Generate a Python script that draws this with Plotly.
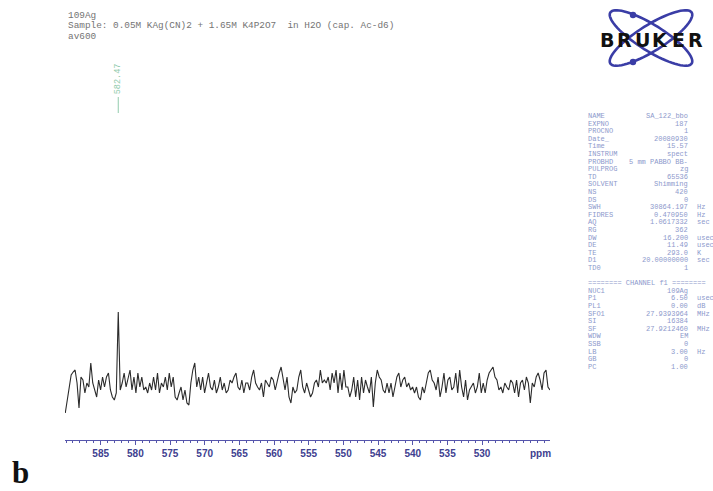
import numpy as np
import plotly.graph_objects as go

# ---------------------------------------------------------------------------
# Spectrum data: 109Ag NMR, intensity (arbitrary units) on a uniform ppm grid
# ---------------------------------------------------------------------------
PPM_LEFT = 590.11
PPM_RIGHT = 520.21
INTENSITY = [
    -23, -10, 7, 15, 18, 20, 7, -18, 13, 10, -3, 7, 3, 27, 7, 0, -7, 10, 0, 13,
    3, 13, 17, 0, -7, -10, -3,
    78,
    0, 7, 17, 3, 13, 20, 0, 13, -3, 17,
    3, 13, 0, 3, -3, 7, 0, 13, 0, 17,
    -3, 7, 3, 13, 0, 17, 3, 13, -7, -10,
    -3, 3, -10, 0, -13, -15, 7, 20, 27, 3,
    13, 0, 13, -3, 7, 17, 3, 0, 10, -3,
    3, 13, 0, 7, -3, 0, 10, 7, 13, 17,
    3, 0, 10, -3, 7, 7, 0, 13, 20, 7,
    3, 0, 7, -7, 10, 7, 3, 13, 10, 0,
    10, 17, 23, 10, 0, 13, -7, -13, 3, -3,
    0, 13, 20, 3, -3, 7, 0, -7, -3,
    7, 10, 3, 20, 7, 10, 7, 13, 0, 17,
    7, 20, -3, 17, 0, 20, 3, 3, -7, 0,
    13, -7, 10, -10, 13, -3, 10, 3, -3, 13,
    -17, 7, 20, 13, 10, 0, -3, 7, -3, 7,
    -7, 3, 13, 17, 3, 10, 13, 3, 7, 0,
    3, -3, 3, -7, -10, 3, -3, 7, 17, 20,
    10, 7, 0, 13, -7, 3, 17, -3, 10, 13,
    0, 3, 17, -3, 20, 3, -7, 10, -10, 0,
    3, 7, -3, 3, 17, -3, 7, -3, 10, 17,
    20, 23, 13, 10, 0, 3, -3, 7, 3, 0,
    10, 7, -3, 10, -7, 7, 10, 0, 13, 7,
    -13, 7, 3, 13, 17, 10, 0, 17, 20, 3,
    0,
]
PEAK_PPM = 582.47
PEAK_LABEL = "582.47"

AXIS_RANGE = [590.15, 520.2]
TICK_PPM = [585, 580, 575, 570, 565, 560, 555, 550, 545, 540, 535, 530]

HEADER_LINES = [
    "109Ag",
    "Sample: 0.05M KAg(CN)2 + 1.65M K4P2O7  in H2O (cap. Ac-d6)",
    "av600",
]

ACQ_NAMES = ["NAME", "EXPNO", "PROCNO", "Date_", "Time", "INSTRUM", "PROBHD",
             "PULPROG", "TD", "SOLVENT", "NS", "DS", "SWH", "FIDRES", "AQ",
             "RG", "DW", "DE", "TE", "D1", "TD0"]
ACQ_VALUES = ["SA_122_bbo", "187", "1", "20080930", "15.57", "spect",
              "5 mm PABBO BB-", "zg", "65536", "Shimming", "420", "0",
              "30864.197", "0.470950", "1.0617332", "362", "16.200", "11.49",
              "293.0", "20.00000000", "1"]
ACQ_UNITS = ["", "", "", "", "", "", "", "", "", "", "", "", "Hz", "Hz", "sec",
             "", "usec", "usec", "K", "sec", ""]

CHANNEL_TITLE = "======== CHANNEL f1 ========"
CH_NAMES = ["NUC1", "P1", "PL1", "SFO1", "SI", "SF", "WDW", "SSB", "LB", "GB", "PC"]
CH_VALUES = ["109Ag", "6.50", "0.00", "27.9393964", "16384", "27.9212460",
             "EM", "0", "3.00", "0", "1.00"]
CH_UNITS = ["", "usec", "dB", "MHz", "", "MHz", "", "", "Hz", "", ""]

# ---------------------------------------------------------------------------
# Page geometry (pixels) and helpers to place decorations in paper units
# ---------------------------------------------------------------------------
W, H = 713, 491
ML, MR, MT, MB = 65, 163, 50, 51
PW = W - ML - MR
PH = H - MT - MB


def px(x):
    return (x - ML) / PW


def py(y):
    return (H - MB - y) / PH


AXIS_BLUE = "#5656ac"
LABEL_BLUE = "#40408f"
TABLE_BLUE = "#8d99cc"
PEAK_GREEN = "#93cbad"
HEADER_GRAY = "#747474"
MONO = "Liberation Mono, DejaVu Sans Mono, monospace"

ppm = np.linspace(PPM_LEFT, PPM_RIGHT, len(INTENSITY))

fig = go.Figure()
fig.add_trace(go.Scatter(
    x=ppm, y=INTENSITY, mode="lines",
    line=dict(color="#2b2b2b", width=1.1),
    hoverinfo="skip", showlegend=False,
))

annotations = []
shapes = []

# header lines
for i, line in enumerate(HEADER_LINES):
    annotations.append(dict(
        text=line, xref="paper", yref="paper", x=px(66), y=py(15 + i * 10.8),
        xanchor="left", yanchor="middle", showarrow=False,
        font=dict(family=MONO, size=9.4, color=HEADER_GRAY),
    ))

# peak label and its marker line
annotations.append(dict(
    text=PEAK_LABEL, xref="x", yref="paper", x=PEAK_PPM, y=py(79),
    xanchor="center", yanchor="middle", textangle=-90, showarrow=False,
    font=dict(family=MONO, size=8.5, color=PEAK_GREEN),
))
shapes.append(dict(
    type="line", xref="x", yref="paper", x0=PEAK_PPM, x1=PEAK_PPM,
    y0=py(113), y1=py(97), line=dict(color=PEAK_GREEN, width=1),
))

# parameter table
ROW0, ROW_STEP = 116, 7.6
NAME_X, VALUE_X, UNIT_X = 586, 690, 695


def table_row(row, name, value, unit):
    y = py(ROW0 + row * ROW_STEP)
    font = dict(family=MONO, size=7, color=TABLE_BLUE)
    annotations.append(dict(text=name, xref="paper", yref="paper", x=px(NAME_X),
                            y=y, xanchor="left", yanchor="middle",
                            showarrow=False, font=font))
    if value:
        annotations.append(dict(text=value, xref="paper", yref="paper",
                                x=px(VALUE_X), y=y, xanchor="right",
                                yanchor="middle", showarrow=False, font=font))
    if unit:
        annotations.append(dict(text=unit, xref="paper", yref="paper",
                                x=px(UNIT_X), y=y, xanchor="left",
                                yanchor="middle", showarrow=False, font=font))


for i, (n, v, u) in enumerate(zip(ACQ_NAMES, ACQ_VALUES, ACQ_UNITS)):
    table_row(i, n, v, u)
table_row(len(ACQ_NAMES) + 1, CHANNEL_TITLE, "", "")
for i, (n, v, u) in enumerate(zip(CH_NAMES, CH_VALUES, CH_UNITS)):
    table_row(len(ACQ_NAMES) + 2 + i, n, v, u)

# Bruker logo: two crossing orbits, two electrons and the word mark
LOGO_CX, LOGO_CY = 651, 38
ORBIT_A, ORBIT_B = 48, 13
LOGO_BLUE = "#3a3da6"
t = np.linspace(0, 2 * np.pi, 73)
for ang in (np.radians(32), np.radians(-32)):
    ex = LOGO_CX + ORBIT_A * np.cos(t) * np.cos(ang) - ORBIT_B * np.sin(t) * np.sin(ang)
    ey = LOGO_CY + ORBIT_A * np.cos(t) * np.sin(ang) + ORBIT_B * np.sin(t) * np.cos(ang)
    path = "M " + " L ".join(f"{px(a):.5f},{py(b):.5f}" for a, b in zip(ex, ey)) + " Z"
    shapes.append(dict(type="path", xref="paper", yref="paper", path=path,
                       line=dict(color=LOGO_BLUE, width=2.6)))
for cx, cy in ((633, 15), (633, 62)):
    r = 3.2
    shapes.append(dict(type="circle", xref="paper", yref="paper",
                       x0=px(cx - r), x1=px(cx + r), y0=py(cy + r), y1=py(cy - r),
                       fillcolor=LOGO_BLUE, line=dict(color=LOGO_BLUE, width=0)))
for i, ch in enumerate("BRUKER"):
    annotations.append(dict(
        text=f"<b>{ch}</b>", xref="paper", yref="paper",
        x=px(606.9 + i * 17.8), y=py(40), xanchor="center", yanchor="middle",
        showarrow=False,
        font=dict(family="DejaVu Sans, Liberation Sans", size=19, color="#111111"),
    ))

# axis unit and panel letter
annotations.append(dict(
    text="ppm", xref="paper", yref="paper", x=px(540), y=py(453),
    xanchor="center", yanchor="middle", showarrow=False,
    font=dict(family="Liberation Sans, Arial", size=10, color=LABEL_BLUE, weight="bold"),
))
annotations.append(dict(
    text="<b>b</b>", xref="paper", yref="paper", x=px(20), y=py(472),
    xanchor="center", yanchor="middle", showarrow=False,
    font=dict(family="Liberation Serif, Times New Roman, serif", size=31, color="#111111"),
))

fig.update_layout(
    width=W, height=H,
    margin=dict(l=ML, r=MR, t=MT, b=MB, pad=0),
    paper_bgcolor="white", plot_bgcolor="white",
    showlegend=False, hovermode=False,
    annotations=annotations, shapes=shapes,
    xaxis=dict(
        range=AXIS_RANGE, autorange=False,
        showgrid=False, zeroline=False,
        showline=True, linecolor=AXIS_BLUE, linewidth=1,
        tickmode="array", tickvals=TICK_PPM, ticktext=[str(v) for v in TICK_PPM],
        ticks="outside", ticklen=4, tickwidth=1, tickcolor=AXIS_BLUE,
        tickfont=dict(family="Liberation Sans, Arial", size=10, color=LABEL_BLUE, weight="bold"),
        minor=dict(tickmode="linear", tick0=0, dtick=1, ticks="outside",
                   ticklen=2, tickwidth=1, tickcolor=AXIS_BLUE, showgrid=False),
        fixedrange=True,
    ),
    yaxis=dict(range=[-50, 340], autorange=False, visible=False, fixedrange=True),
)

fig.write_html("out.html")
